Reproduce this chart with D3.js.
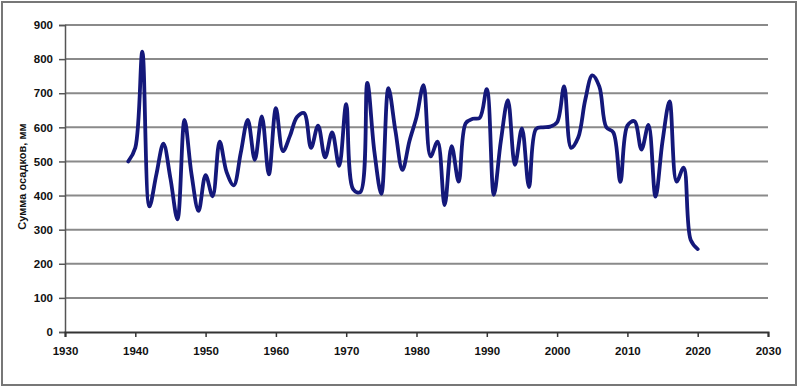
<!DOCTYPE html>
<html>
<head>
<meta charset="utf-8">
<script src="https://cdn.jsdelivr.net/npm/d3@7"></script>
<style>
  html, body { margin: 0; padding: 0; background: #fff; }
  svg { display: block; }
  text { font-family: "Liberation Sans", Arial, sans-serif; font-weight: bold; fill: #111; }
</style>
</head>
<body>
<svg id="chart" width="800" height="388"></svg>
<script>
const years = d3.range(1939, 2021);
const precipitation = [
  500, 540, 822, 368, 462, 552, 450, 330, 622, 462,
  355, 460, 398, 558, 468, 430, 525, 622, 505, 632,
  462, 656, 530, 575, 630, 642, 540, 605, 512, 585,
  487, 668, 418, 410, 730, 530, 405, 715, 590, 475,
  560, 630, 724, 515, 558, 372, 545, 441, 612, 625,
  628, 712, 402, 560, 680, 490, 597, 425, 595, 600,
  602, 615, 720, 540, 570, 680, 752, 720, 600, 585,
  440, 605, 618, 535, 607, 397, 560, 676, 441, 482,
  270, 243
];
const xTicks = [1930, 1940, 1950, 1960, 1970, 1980, 1990, 2000, 2010, 2020, 2030];
const yTicks = [0, 100, 200, 300, 400, 500, 600, 700, 800, 900];
const yTitle = "Сумма осадков, мм";

const data = years.map((y, i) => ({ year: y, value: precipitation[i] }));

const svg = d3.select("#chart");
const W = 800, H = 388;
const m = { left: 65, right: 32, top: 25, bottom: 56 };

// outer frame
svg.append("rect").attr("x", 2).attr("y", 2).attr("width", W - 6).attr("height", H - 5)
  .attr("fill", "#fff").attr("stroke", "#777").attr("stroke-width", 2);

const x = d3.scaleLinear().domain([1930, 2030]).range([m.left, W - m.right]);
const y = d3.scaleLinear().domain([0, 900]).range([H - m.bottom, m.top]);

// gridlines
svg.append("g").selectAll("line").data(yTicks.filter(d => d > 0)).join("line")
  .attr("x1", x(1930)).attr("x2", x(2030))
  .attr("y1", d => y(d)).attr("y2", d => y(d))
  .attr("stroke", "#8a8a8a").attr("stroke-width", 2);

// y axis
const yAxis = svg.append("g").attr("transform", `translate(${x(1930)},0)`)
  .call(d3.axisLeft(y).tickValues(yTicks).tickSize(6).tickPadding(6));
yAxis.select(".domain").attr("stroke", "#555").attr("stroke-width", 1.5);
yAxis.selectAll(".tick line").attr("stroke", "#555").attr("stroke-width", 1.5);
yAxis.selectAll("text").attr("font-size", 11.5).attr("font-weight", "bold")
  .attr("font-family", "'Liberation Sans', Arial, sans-serif").attr("fill", "#111");

// x axis
const xAxis = svg.append("g").attr("transform", `translate(0,${y(0)})`)
  .call(d3.axisBottom(x).tickValues(xTicks).tickFormat(d3.format("d")).tickSize(5).tickPadding(10));
xAxis.select(".domain").attr("stroke", "#333").attr("stroke-width", 2);
xAxis.selectAll(".tick line").attr("stroke", "#333").attr("stroke-width", 1.5);
xAxis.selectAll("text").attr("font-size", 11.5).attr("font-weight", "bold")
  .attr("font-family", "'Liberation Sans', Arial, sans-serif").attr("fill", "#111");

// y title
svg.append("text")
  .attr("transform", `translate(26,${(y(0) + y(900)) / 2 - 2}) rotate(-90)`)
  .attr("text-anchor", "middle").attr("font-size", 11)
  .text(yTitle);

// line
const line = d3.line()
  .x(d => x(d.year)).y(d => y(d.value))
  .curve(d3.curveCatmullRom.alpha(0.5));

svg.append("path").datum(data)
  .attr("fill", "none").attr("stroke", "#14187a").attr("stroke-width", 3.8)
  .attr("stroke-linejoin", "round").attr("stroke-linecap", "round")
  .attr("d", line);
</script>
</body>
</html>
